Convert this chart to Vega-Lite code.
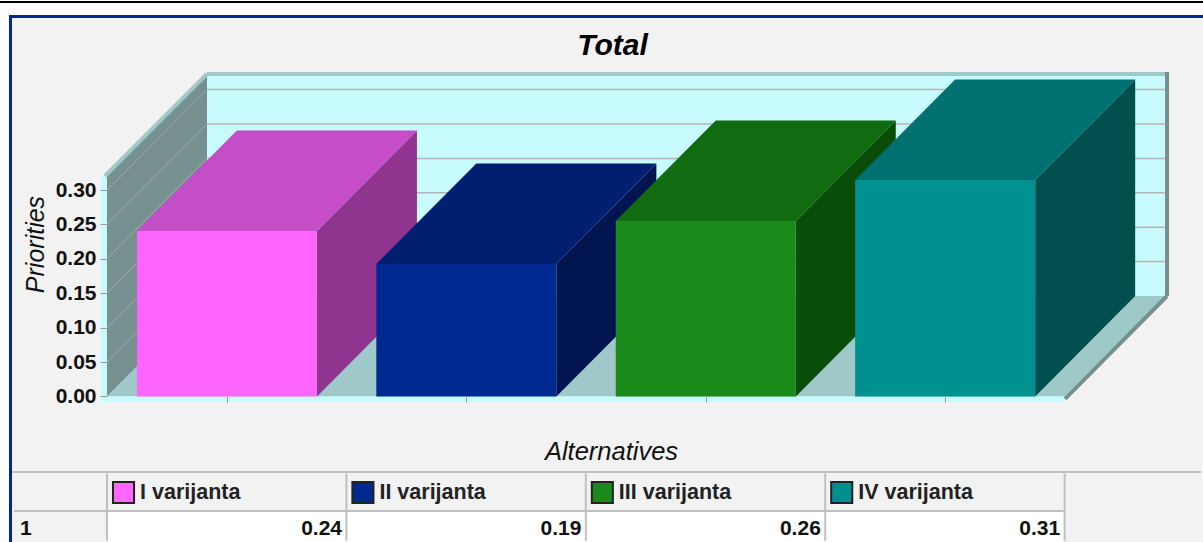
{
"$schema":"https://vega.github.io/schema/vega-lite/v6.json",
"width":1203,"height":542,"padding":0,
"autosize":{"type":"fit","contains":"padding"},
"background":"white",
"config":{"view":{"stroke":null},"font":"Liberation Sans"},
"title":{"text":"Total","font":"Liberation Sans","fontSize":30,"fontWeight":"bold","fontStyle":"italic","color":"#000000","anchor":"middle","offset":-61,"dx":11},
"data":{"values":[{"frame":1}]},
"datasets":{
"bars":[
{"alternative":"I varijanta","index":0,"priority":0.2405},
{"alternative":"II varijanta","index":1,"priority":0.1926},
{"alternative":"III varijanta","index":2,"priority":0.2552},
{"alternative":"IV varijanta","index":3,"priority":0.3147}],
"ticks":[{"v":0.05},{"v":0.10},{"v":0.15},{"v":0.20},{"v":0.25},{"v":0.30}],
"columns":[{"col":0},{"col":1},{"col":2},{"col":3},{"col":4}]
},
"layer":[
{"transform":[{"calculate":"-0.3968","as":"a"},{"calculate":"4.578","as":"b"},{"calculate":"-0.2115","as":"c"},{"calculate":"0.5516","as":"d"}],"mark":{"type":"rect","color":"#f2f2f2"},"encoding":{
"x":{"field":"a","type":"quantitative","scale":{"domain":[-0.44695,4.578],"nice":false,"zero":false},
"axis":{"orient":"bottom","offset":-145.5,"values":[0.5,1.5,2.5,3.5],"labels":false,"domain":false,"grid":false,"tickSize":6,"tickColor":"#9a9a9a","tickWidth":1,"title":"Alternatives","titleFont":"Liberation Sans","titleFontSize":25.5,"titleFontStyle":"italic","titleFontWeight":"normal","titleColor":"#111111","titleX":611,"titleY":63,"titleBaseline":"alphabetic","zindex":1}},
"x2":{"field":"b"},
"y":{"field":"c","type":"quantitative","scale":{"domain":[-0.2115,0.5763],"nice":false,"zero":false},
"axis":{"orient":"left","offset":-107,"values":[0,0.05,0.1,0.15,0.2,0.25,0.3],"format":".2f","domain":false,"grid":false,"tickSize":7,"tickColor":"#9a9a9a","tickWidth":1,"labelPadding":4,"labelFont":"Liberation Sans","labelFontSize":21,"labelFontWeight":"bold","labelColor":"#111111","title":"Priorities","titleFont":"Liberation Sans","titleFontSize":25,"titleFontStyle":"italic","titleFontWeight":"normal","titleColor":"#111111","titleX":-63.5,"titleY":244,"titleAngle":-90,"titleBaseline":"alphabetic","zindex":1}},
"y2":{"field":"d"}}},
{"transform":[{"calculate":"-0.4094","as":"a"},{"calculate":"4.578","as":"b"},{"calculate":"0.5501","as":"c"},{"calculate":"0.5545","as":"d"}],"mark":{"type":"rect","color":"#00288f"},"encoding":{"x":{"field":"a","type":"quantitative"},"x2":{"field":"b"},"y":{"field":"c","type":"quantitative"},"y2":{"field":"d"}}},
{"transform":[{"calculate":"-0.4094","as":"a"},{"calculate":"-0.3968","as":"b"},{"calculate":"-0.2115","as":"c"},{"calculate":"0.5545","as":"d"}],"mark":{"type":"rect","color":"#00288f"},"encoding":{"x":{"field":"a","type":"quantitative"},"x2":{"field":"b"},"y":{"field":"c","type":"quantitative"},"y2":{"field":"d"}}},
{"transform":[{"calculate":"-0.44695","as":"a"},{"calculate":"4.578","as":"b"},{"calculate":"0.572","as":"c"},{"calculate":"0.5749","as":"d"}],"mark":{"type":"rect","color":"#000000"},"encoding":{"x":{"field":"a","type":"quantitative"},"x2":{"field":"b"},"y":{"field":"c","type":"quantitative"},"y2":{"field":"d"}}},
{"transform":[{"calculate":"0.4177","as":"a"},{"calculate":"4.4177","as":"b"},{"calculate":"0.1461","as":"c"},{"calculate":"0.4661","as":"d"}],"mark":{"type":"rect","color":"#c8fbfe"},"encoding":{"x":{"field":"a","type":"quantitative"},"x2":{"field":"b"},"y":{"field":"c","type":"quantitative"},"y2":{"field":"d"}}},
{"transform":[{"calculate":"[0,0.4177]","as":"vx"},{"calculate":"[0,0.1461]","as":"lo"},{"calculate":"[0.32,0.4661]","as":"hi"},{"flatten":["vx","lo","hi"]}],
"mark":{"type":"area","color":"#769090"},"encoding":{"x":{"field":"vx","type":"quantitative"},"y":{"field":"lo","type":"quantitative"},"y2":{"field":"hi"}}},
{"transform":[{"calculate":"[0,0.4177,4,4.4177]","as":"vx"},{"calculate":"[0,0,0,0.1461]","as":"lo"},{"calculate":"[0,0.1461,0.1461,0.1461]","as":"hi"},{"flatten":["vx","lo","hi"]}],
"mark":{"type":"area","color":"#9fc9c9"},"encoding":{"x":{"field":"vx","type":"quantitative"},"y":{"field":"lo","type":"quantitative"},"y2":{"field":"hi"}}},
{"transform":[{"calculate":"-0.0251","as":"a"},{"calculate":"4","as":"b"},{"calculate":"-0.008","as":"c"},{"calculate":"0","as":"d"}],"mark":{"type":"rect","color":"#c8fbfe"},"encoding":{"x":{"field":"a","type":"quantitative"},"x2":{"field":"b"},"y":{"field":"c","type":"quantitative"},"y2":{"field":"d"}}},
{"transform":[{"calculate":"-0.0251","as":"a"},{"calculate":"0","as":"b"},{"calculate":"-0.008","as":"c"},{"calculate":"0.32","as":"d"}],"mark":{"type":"rect","color":"#c8fbfe"},"encoding":{"x":{"field":"a","type":"quantitative"},"x2":{"field":"b"},"y":{"field":"c","type":"quantitative"},"y2":{"field":"d"}}},
{"data":{"name":"ticks"},"transform":[{"calculate":"datum.v+0.1461","as":"back"},{"calculate":"0","as":"a"},{"calculate":"0.4177","as":"b"}],
"mark":{"type":"rule","color":"#a3abab","strokeWidth":1},"encoding":{"x":{"field":"a","type":"quantitative"},"x2":{"field":"b"},"y":{"field":"v","type":"quantitative"},"y2":{"field":"back"}}},
{"data":{"name":"ticks"},"transform":[{"calculate":"datum.v+0.1461","as":"back"},{"calculate":"0.4177","as":"a"},{"calculate":"4.4177","as":"b"}],
"mark":{"type":"rule","color":"#b4b4b4","strokeWidth":1.5},"encoding":{"x":{"field":"a","type":"quantitative"},"x2":{"field":"b"},"y":{"field":"back","type":"quantitative"}}},
{"transform":[{"calculate":"-0.0084","as":"a"},{"calculate":"0.4177","as":"b"},{"calculate":"0.3205","as":"c"},{"calculate":"0.4688","as":"d"}],"mark":{"type":"rule","color":"#9fc9c9","strokeWidth":4},"encoding":{"x":{"field":"a","type":"quantitative"},"x2":{"field":"b"},"y":{"field":"c","type":"quantitative"},"y2":{"field":"d"}}},
{"transform":[{"calculate":"0.4177","as":"a"},{"calculate":"4.436","as":"b"},{"calculate":"0.4688","as":"c"}],"mark":{"type":"rule","color":"#9fc9c9","strokeWidth":4},"encoding":{"x":{"field":"a","type":"quantitative"},"x2":{"field":"b"},"y":{"field":"c","type":"quantitative"}}},
{"transform":[{"calculate":"4.4277","as":"a"},{"calculate":"0.1461","as":"c"},{"calculate":"0.4717","as":"d"}],"mark":{"type":"rule","color":"#769090","strokeWidth":4},"encoding":{"x":{"field":"a","type":"quantitative"},"y":{"field":"c","type":"quantitative"},"y2":{"field":"d"}}},
{"transform":[{"calculate":"4.4277","as":"a"},{"calculate":"4.0017","as":"b"},{"calculate":"0.1461","as":"c"},{"calculate":"-0.0036","as":"d"}],"mark":{"type":"rule","color":"#769090","strokeWidth":4},"encoding":{"x":{"field":"a","type":"quantitative"},"x2":{"field":"b"},"y":{"field":"c","type":"quantitative"},"y2":{"field":"d"}}},
{"data":{"name":"bars"},
"transform":[{"calculate":"datum.index+0.877","as":"x1"},{"calculate":"[datum.x1,datum.x1+0.4177]","as":"vx"},{"calculate":"[0,0.1461]","as":"lo"},{"calculate":"[datum.priority,datum.priority+0.1461]","as":"hi"},{"calculate":"datum.alternative+' side'","as":"face"},{"flatten":["vx","lo","hi"]}],
"mark":{"type":"area"},"encoding":{"x":{"field":"vx","type":"quantitative"},"y":{"field":"lo","type":"quantitative"},"y2":{"field":"hi"},
"color":{"field":"face","type":"nominal","legend":null,"scale":{"domain":["I varijanta side","II varijanta side","III varijanta side","IV varijanta side","I varijanta top","II varijanta top","III varijanta top","IV varijanta top","I varijanta","II varijanta","III varijanta","IV varijanta"],"range":["#8f358f","#00144f","#084d08","#004f4f","#c54dc5","#00206f","#116b11","#007070","#ff66ff","#00298f","#1a8a1a","#009090"]}}}},
{"data":{"name":"bars"},
"transform":[{"calculate":"datum.index+0.125","as":"x0"},{"calculate":"datum.index+0.877","as":"x1"},{"calculate":"[datum.x0,datum.x0+0.4177,datum.x1,datum.x1+0.4177]","as":"vx"},{"calculate":"[datum.priority,datum.priority,datum.priority,datum.priority+0.1461]","as":"lo"},{"calculate":"[datum.priority,datum.priority+0.1461,datum.priority+0.1461,datum.priority+0.1461]","as":"hi"},{"calculate":"datum.alternative+' top'","as":"face"},{"flatten":["vx","lo","hi"]}],
"mark":{"type":"area"},"encoding":{"x":{"field":"vx","type":"quantitative"},"y":{"field":"lo","type":"quantitative"},"y2":{"field":"hi"},
"color":{"field":"face","type":"nominal","legend":null}}},
{"data":{"name":"bars"},
"transform":[{"calculate":"datum.index+0.125","as":"x0"},{"calculate":"datum.index+0.877","as":"x1"},{"calculate":"0","as":"base"}],
"mark":{"type":"rect"},"encoding":{"x":{"field":"x0","type":"quantitative"},"x2":{"field":"x1"},"y":{"field":"base","type":"quantitative"},"y2":{"field":"priority"},
"color":{"field":"alternative","type":"nominal","legend":null}}},
{"transform":[{"calculate":"0","as":"a"},{"calculate":"3.996","as":"b"},{"calculate":"-0.2115","as":"c"},{"calculate":"-0.1664","as":"d"}],"mark":{"type":"rect","color":"#ffffff"},"encoding":{"x":{"field":"a","type":"quantitative"},"x2":{"field":"b"},"y":{"field":"c","type":"quantitative"},"y2":{"field":"d"}}},
{"transform":[{"calculate":"-0.3968","as":"a"},{"calculate":"4.57","as":"b"},{"calculate":"-0.1097","as":"c"}],"mark":{"type":"rule","color":"#c0c0c0","strokeWidth":2},"encoding":{"x":{"field":"a","type":"quantitative"},"x2":{"field":"b"},"y":{"field":"c","type":"quantitative"}}},
{"transform":[{"calculate":"-0.3885","as":"a"},{"calculate":"3.996","as":"b"},{"calculate":"-0.1664","as":"c"}],"mark":{"type":"rule","color":"#c0c0c0","strokeWidth":2},"encoding":{"x":{"field":"a","type":"quantitative"},"x2":{"field":"b"},"y":{"field":"c","type":"quantitative"}}},
{"data":{"name":"columns"},"transform":[{"calculate":"-0.2097","as":"c"},{"calculate":"-0.112","as":"d"}],"mark":{"type":"rule","color":"#c0c0c0","strokeWidth":2},"encoding":{"x":{"field":"col","type":"quantitative"},"y":{"field":"c","type":"quantitative"},"y2":{"field":"d"}}},
{"data":{"name":"bars"},"transform":[{"calculate":"datum.index+0.025","as":"s0"},{"calculate":"datum.index+0.113","as":"s1"},{"calculate":"-0.1548","as":"c"},{"calculate":"-0.1243","as":"d"}],
"mark":{"type":"rect","stroke":"#222222","strokeWidth":2},"encoding":{"x":{"field":"s0","type":"quantitative"},"x2":{"field":"s1"},"y":{"field":"c","type":"quantitative"},"y2":{"field":"d"},
"color":{"field":"alternative","type":"nominal","legend":null}}},
{"data":{"name":"bars"},"transform":[{"calculate":"datum.index+0.138","as":"lx"},{"calculate":"-0.149","as":"c"}],
"mark":{"type":"text","align":"left","baseline":"alphabetic","font":"Liberation Sans","fontSize":21.5,"fontWeight":"bold","color":"#222222"},"encoding":{"x":{"field":"lx","type":"quantitative"},"y":{"field":"c","type":"quantitative"},"text":{"field":"alternative","type":"nominal"}}},
{"data":{"name":"bars"},"transform":[{"calculate":"datum.index+0.9816","as":"lx"},{"calculate":"-0.2013","as":"c"}],
"mark":{"type":"text","align":"right","baseline":"alphabetic","font":"Liberation Sans","fontSize":21,"fontWeight":"bold","color":"#111111"},"encoding":{"x":{"field":"lx","type":"quantitative"},"y":{"field":"c","type":"quantitative"},"text":{"field":"priority","type":"quantitative","format":".2f"}}},
{"transform":[{"calculate":"-0.3635","as":"a"},{"calculate":"-0.2013","as":"c"}],"mark":{"type":"text","align":"left","baseline":"alphabetic","font":"Liberation Sans","fontSize":21,"fontWeight":"bold","color":"#111111","text":"1"},"encoding":{"x":{"field":"a","type":"quantitative"},"y":{"field":"c","type":"quantitative"}}}
]
}
